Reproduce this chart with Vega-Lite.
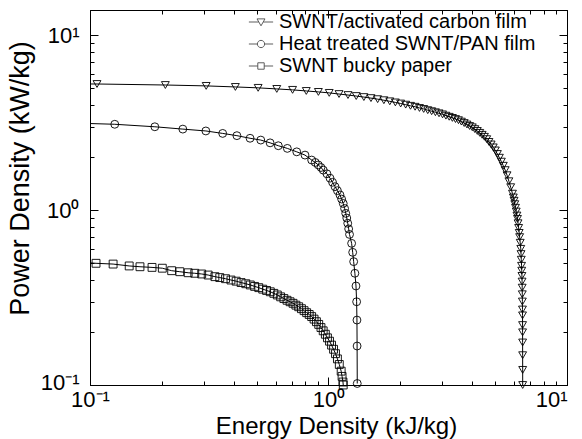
{
  "$schema": "https://vega.github.io/schema/vega-lite/v6.json",
  "width": 477,
  "height": 375,
  "autosize": {"type": "none"},
  "padding": {"left": 90, "top": 10, "right": 15, "bottom": 54},
  "background": "white",
  "config": {
    "view": {"stroke": "black", "strokeWidth": 1},
    "font": "Liberation Sans",
    "axis": {
      "domainColor": "black", "tickColor": "black", "labelColor": "black", "titleColor": "black",
      "grid": false, "labelFont": "Liberation Sans", "titleFont": "Liberation Sans",
      "titleFontWeight": "normal", "labelFontSize": 22, "titleFontSize": 26, "tickWidth": 1, "domainWidth": 1
    },
    "legend": {
      "orient": "none", "legendX": 161, "legendY": 2, "padding": 0,
      "labelFont": "Liberation Sans", "labelFontSize": 20, "labelColor": "black", "labelLimit": 400,
      "symbolSize": 300, "symbolStrokeWidth": 0.9, "symbolStrokeColor": "black", "symbolFillColor": "transparent",
      "labelOffset": 8, "rowPadding": 2
    }
  },
  "data": {"values": [
    {"series": "SWNT/activated carbon film", "E": 0.007, "P": 5.3},
    {"series": "SWNT/activated carbon film", "E": 0.107, "P": 5.25},
    {"series": "SWNT/activated carbon film", "E": 0.207, "P": 5.18},
    {"series": "SWNT/activated carbon film", "E": 0.307, "P": 5.12},
    {"series": "SWNT/activated carbon film", "E": 0.407, "P": 5.05},
    {"series": "SWNT/activated carbon film", "E": 0.507, "P": 4.99},
    {"series": "SWNT/activated carbon film", "E": 0.607, "P": 4.92},
    {"series": "SWNT/activated carbon film", "E": 0.707, "P": 4.86},
    {"series": "SWNT/activated carbon film", "E": 0.807, "P": 4.79},
    {"series": "SWNT/activated carbon film", "E": 0.907, "P": 4.73},
    {"series": "SWNT/activated carbon film", "E": 1.007, "P": 4.67},
    {"series": "SWNT/activated carbon film", "E": 1.107, "P": 4.60},
    {"series": "SWNT/activated carbon film", "E": 1.207, "P": 4.54},
    {"series": "SWNT/activated carbon film", "E": 1.307, "P": 4.48},
    {"series": "SWNT/activated carbon film", "E": 1.407, "P": 4.42},
    {"series": "SWNT/activated carbon film", "E": 1.507, "P": 4.36},
    {"series": "SWNT/activated carbon film", "E": 1.607, "P": 4.30},
    {"series": "SWNT/activated carbon film", "E": 1.707, "P": 4.24},
    {"series": "SWNT/activated carbon film", "E": 1.807, "P": 4.18},
    {"series": "SWNT/activated carbon film", "E": 1.907, "P": 4.12},
    {"series": "SWNT/activated carbon film", "E": 2.007, "P": 4.06},
    {"series": "SWNT/activated carbon film", "E": 2.107, "P": 4.00},
    {"series": "SWNT/activated carbon film", "E": 2.207, "P": 3.94},
    {"series": "SWNT/activated carbon film", "E": 2.307, "P": 3.89},
    {"series": "SWNT/activated carbon film", "E": 2.407, "P": 3.83},
    {"series": "SWNT/activated carbon film", "E": 2.507, "P": 3.78},
    {"series": "SWNT/activated carbon film", "E": 2.607, "P": 3.72},
    {"series": "SWNT/activated carbon film", "E": 2.707, "P": 3.67},
    {"series": "SWNT/activated carbon film", "E": 2.807, "P": 3.62},
    {"series": "SWNT/activated carbon film", "E": 2.907, "P": 3.57},
    {"series": "SWNT/activated carbon film", "E": 3.007, "P": 3.52},
    {"series": "SWNT/activated carbon film", "E": 3.107, "P": 3.46},
    {"series": "SWNT/activated carbon film", "E": 3.207, "P": 3.41},
    {"series": "SWNT/activated carbon film", "E": 3.307, "P": 3.36},
    {"series": "SWNT/activated carbon film", "E": 3.407, "P": 3.31},
    {"series": "SWNT/activated carbon film", "E": 3.507, "P": 3.26},
    {"series": "SWNT/activated carbon film", "E": 3.607, "P": 3.20},
    {"series": "SWNT/activated carbon film", "E": 3.707, "P": 3.14},
    {"series": "SWNT/activated carbon film", "E": 3.807, "P": 3.08},
    {"series": "SWNT/activated carbon film", "E": 3.907, "P": 3.02},
    {"series": "SWNT/activated carbon film", "E": 4.007, "P": 2.97},
    {"series": "SWNT/activated carbon film", "E": 4.107, "P": 2.90},
    {"series": "SWNT/activated carbon film", "E": 4.207, "P": 2.83},
    {"series": "SWNT/activated carbon film", "E": 4.307, "P": 2.76},
    {"series": "SWNT/activated carbon film", "E": 4.407, "P": 2.69},
    {"series": "SWNT/activated carbon film", "E": 4.507, "P": 2.62},
    {"series": "SWNT/activated carbon film", "E": 4.607, "P": 2.54},
    {"series": "SWNT/activated carbon film", "E": 4.707, "P": 2.45},
    {"series": "SWNT/activated carbon film", "E": 4.807, "P": 2.37},
    {"series": "SWNT/activated carbon film", "E": 4.907, "P": 2.28},
    {"series": "SWNT/activated carbon film", "E": 5.007, "P": 2.19},
    {"series": "SWNT/activated carbon film", "E": 5.107, "P": 2.09},
    {"series": "SWNT/activated carbon film", "E": 5.207, "P": 1.99},
    {"series": "SWNT/activated carbon film", "E": 5.307, "P": 1.89},
    {"series": "SWNT/activated carbon film", "E": 5.407, "P": 1.79},
    {"series": "SWNT/activated carbon film", "E": 5.507, "P": 1.69},
    {"series": "SWNT/activated carbon film", "E": 5.607, "P": 1.58},
    {"series": "SWNT/activated carbon film", "E": 5.707, "P": 1.46},
    {"series": "SWNT/activated carbon film", "E": 5.807, "P": 1.35},
    {"series": "SWNT/activated carbon film", "E": 5.907, "P": 1.24},
    {"series": "SWNT/activated carbon film", "E": 5.956, "P": 1.18},
    {"series": "SWNT/activated carbon film", "E": 6.0, "P": 1.13},
    {"series": "SWNT/activated carbon film", "E": 6.042, "P": 1.08},
    {"series": "SWNT/activated carbon film", "E": 6.083, "P": 1.03},
    {"series": "SWNT/activated carbon film", "E": 6.125, "P": 0.98},
    {"series": "SWNT/activated carbon film", "E": 6.167, "P": 0.93},
    {"series": "SWNT/activated carbon film", "E": 6.2, "P": 0.89},
    {"series": "SWNT/activated carbon film", "E": 6.234, "P": 0.84},
    {"series": "SWNT/activated carbon film", "E": 6.269, "P": 0.79},
    {"series": "SWNT/activated carbon film", "E": 6.303, "P": 0.74},
    {"series": "SWNT/activated carbon film", "E": 6.331, "P": 0.70},
    {"series": "SWNT/activated carbon film", "E": 6.366, "P": 0.65},
    {"series": "SWNT/activated carbon film", "E": 6.4, "P": 0.60},
    {"series": "SWNT/activated carbon film", "E": 6.416, "P": 0.56},
    {"series": "SWNT/activated carbon film", "E": 6.432, "P": 0.52},
    {"series": "SWNT/activated carbon film", "E": 6.448, "P": 0.48},
    {"series": "SWNT/activated carbon film", "E": 6.46, "P": 0.45},
    {"series": "SWNT/activated carbon film", "E": 6.472, "P": 0.42},
    {"series": "SWNT/activated carbon film", "E": 6.482, "P": 0.39},
    {"series": "SWNT/activated carbon film", "E": 6.488, "P": 0.36},
    {"series": "SWNT/activated carbon film", "E": 6.494, "P": 0.33},
    {"series": "SWNT/activated carbon film", "E": 6.5, "P": 0.30},
    {"series": "SWNT/activated carbon film", "E": 6.506, "P": 0.27},
    {"series": "SWNT/activated carbon film", "E": 6.51, "P": 0.25},
    {"series": "SWNT/activated carbon film", "E": 6.512, "P": 0.22},
    {"series": "SWNT/activated carbon film", "E": 6.513, "P": 0.20},
    {"series": "SWNT/activated carbon film", "E": 6.515, "P": 0.175},
    {"series": "SWNT/activated carbon film", "E": 6.517, "P": 0.148},
    {"series": "SWNT/activated carbon film", "E": 6.519, "P": 0.122},
    {"series": "SWNT/activated carbon film", "E": 6.52, "P": 0.1},
    {"series": "Heat treated SWNT/PAN film", "E": 0.068, "P": 3.17},
    {"series": "Heat treated SWNT/PAN film", "E": 0.127, "P": 3.09},
    {"series": "Heat treated SWNT/PAN film", "E": 0.187, "P": 2.99},
    {"series": "Heat treated SWNT/PAN film", "E": 0.245, "P": 2.90},
    {"series": "Heat treated SWNT/PAN film", "E": 0.306, "P": 2.83},
    {"series": "Heat treated SWNT/PAN film", "E": 0.36, "P": 2.74},
    {"series": "Heat treated SWNT/PAN film", "E": 0.413, "P": 2.66},
    {"series": "Heat treated SWNT/PAN film", "E": 0.469, "P": 2.57},
    {"series": "Heat treated SWNT/PAN film", "E": 0.52, "P": 2.51},
    {"series": "Heat treated SWNT/PAN film", "E": 0.569, "P": 2.42},
    {"series": "Heat treated SWNT/PAN film", "E": 0.616, "P": 2.33},
    {"series": "Heat treated SWNT/PAN film", "E": 0.672, "P": 2.25},
    {"series": "Heat treated SWNT/PAN film", "E": 0.736, "P": 2.15},
    {"series": "Heat treated SWNT/PAN film", "E": 0.797, "P": 2.06},
    {"series": "Heat treated SWNT/PAN film", "E": 0.85, "P": 1.93},
    {"series": "Heat treated SWNT/PAN film", "E": 0.88, "P": 1.87},
    {"series": "Heat treated SWNT/PAN film", "E": 0.906, "P": 1.81},
    {"series": "Heat treated SWNT/PAN film", "E": 0.93, "P": 1.75},
    {"series": "Heat treated SWNT/PAN film", "E": 0.951, "P": 1.69},
    {"series": "Heat treated SWNT/PAN film", "E": 0.985, "P": 1.61},
    {"series": "Heat treated SWNT/PAN film", "E": 1.015, "P": 1.52},
    {"series": "Heat treated SWNT/PAN film", "E": 1.04, "P": 1.44},
    {"series": "Heat treated SWNT/PAN film", "E": 1.065, "P": 1.36},
    {"series": "Heat treated SWNT/PAN film", "E": 1.09, "P": 1.29},
    {"series": "Heat treated SWNT/PAN film", "E": 1.117, "P": 1.22},
    {"series": "Heat treated SWNT/PAN film", "E": 1.135, "P": 1.155},
    {"series": "Heat treated SWNT/PAN film", "E": 1.153, "P": 1.09},
    {"series": "Heat treated SWNT/PAN film", "E": 1.168, "P": 1.02},
    {"series": "Heat treated SWNT/PAN film", "E": 1.181, "P": 0.957},
    {"series": "Heat treated SWNT/PAN film", "E": 1.193, "P": 0.9},
    {"series": "Heat treated SWNT/PAN film", "E": 1.204, "P": 0.84},
    {"series": "Heat treated SWNT/PAN film", "E": 1.215, "P": 0.78},
    {"series": "Heat treated SWNT/PAN film", "E": 1.225, "P": 0.725},
    {"series": "Heat treated SWNT/PAN film", "E": 1.25, "P": 0.645},
    {"series": "Heat treated SWNT/PAN film", "E": 1.263, "P": 0.573},
    {"series": "Heat treated SWNT/PAN film", "E": 1.275, "P": 0.507},
    {"series": "Heat treated SWNT/PAN film", "E": 1.29, "P": 0.435},
    {"series": "Heat treated SWNT/PAN film", "E": 1.304, "P": 0.368},
    {"series": "Heat treated SWNT/PAN film", "E": 1.312, "P": 0.299},
    {"series": "Heat treated SWNT/PAN film", "E": 1.316, "P": 0.235},
    {"series": "Heat treated SWNT/PAN film", "E": 1.318, "P": 0.167},
    {"series": "Heat treated SWNT/PAN film", "E": 1.32, "P": 0.102},
    {"series": "SWNT bucky paper", "E": 0.087, "P": 0.505},
    {"series": "SWNT bucky paper", "E": 0.106, "P": 0.496},
    {"series": "SWNT bucky paper", "E": 0.125, "P": 0.491},
    {"series": "SWNT bucky paper", "E": 0.146, "P": 0.479},
    {"series": "SWNT bucky paper", "E": 0.162, "P": 0.474},
    {"series": "SWNT bucky paper", "E": 0.182, "P": 0.47},
    {"series": "SWNT bucky paper", "E": 0.201, "P": 0.465},
    {"series": "SWNT bucky paper", "E": 0.22, "P": 0.45},
    {"series": "SWNT bucky paper", "E": 0.238, "P": 0.444},
    {"series": "SWNT bucky paper", "E": 0.258, "P": 0.438},
    {"series": "SWNT bucky paper", "E": 0.275, "P": 0.435},
    {"series": "SWNT bucky paper", "E": 0.294, "P": 0.431},
    {"series": "SWNT bucky paper", "E": 0.313, "P": 0.425},
    {"series": "SWNT bucky paper", "E": 0.334, "P": 0.416},
    {"series": "SWNT bucky paper", "E": 0.35, "P": 0.411},
    {"series": "SWNT bucky paper", "E": 0.37, "P": 0.405},
    {"series": "SWNT bucky paper", "E": 0.39, "P": 0.398},
    {"series": "SWNT bucky paper", "E": 0.41, "P": 0.392},
    {"series": "SWNT bucky paper", "E": 0.43, "P": 0.385},
    {"series": "SWNT bucky paper", "E": 0.45, "P": 0.379},
    {"series": "SWNT bucky paper", "E": 0.47, "P": 0.373},
    {"series": "SWNT bucky paper", "E": 0.49, "P": 0.366},
    {"series": "SWNT bucky paper", "E": 0.51, "P": 0.36},
    {"series": "SWNT bucky paper", "E": 0.53, "P": 0.353},
    {"series": "SWNT bucky paper", "E": 0.55, "P": 0.347},
    {"series": "SWNT bucky paper", "E": 0.57, "P": 0.341},
    {"series": "SWNT bucky paper", "E": 0.59, "P": 0.334},
    {"series": "SWNT bucky paper", "E": 0.61, "P": 0.327},
    {"series": "SWNT bucky paper", "E": 0.63, "P": 0.319},
    {"series": "SWNT bucky paper", "E": 0.65, "P": 0.312},
    {"series": "SWNT bucky paper", "E": 0.67, "P": 0.305},
    {"series": "SWNT bucky paper", "E": 0.69, "P": 0.299},
    {"series": "SWNT bucky paper", "E": 0.71, "P": 0.293},
    {"series": "SWNT bucky paper", "E": 0.73, "P": 0.286},
    {"series": "SWNT bucky paper", "E": 0.75, "P": 0.28},
    {"series": "SWNT bucky paper", "E": 0.77, "P": 0.273},
    {"series": "SWNT bucky paper", "E": 0.79, "P": 0.266},
    {"series": "SWNT bucky paper", "E": 0.81, "P": 0.259},
    {"series": "SWNT bucky paper", "E": 0.83, "P": 0.253},
    {"series": "SWNT bucky paper", "E": 0.85, "P": 0.246},
    {"series": "SWNT bucky paper", "E": 0.87, "P": 0.238},
    {"series": "SWNT bucky paper", "E": 0.89, "P": 0.23},
    {"series": "SWNT bucky paper", "E": 0.91, "P": 0.222},
    {"series": "SWNT bucky paper", "E": 0.93, "P": 0.213},
    {"series": "SWNT bucky paper", "E": 0.95, "P": 0.204},
    {"series": "SWNT bucky paper", "E": 0.97, "P": 0.195},
    {"series": "SWNT bucky paper", "E": 0.99, "P": 0.186},
    {"series": "SWNT bucky paper", "E": 1.01, "P": 0.178},
    {"series": "SWNT bucky paper", "E": 1.03, "P": 0.169},
    {"series": "SWNT bucky paper", "E": 1.05, "P": 0.16},
    {"series": "SWNT bucky paper", "E": 1.07, "P": 0.151},
    {"series": "SWNT bucky paper", "E": 1.09, "P": 0.141},
    {"series": "SWNT bucky paper", "E": 1.11, "P": 0.131},
    {"series": "SWNT bucky paper", "E": 1.13, "P": 0.12},
    {"series": "SWNT bucky paper", "E": 1.14, "P": 0.112},
    {"series": "SWNT bucky paper", "E": 1.15, "P": 0.104},
    {"series": "SWNT bucky paper", "E": 1.153, "P": 0.1}
  ]},
  "layer": [
    {
      "mark": {"type": "line", "color": "black", "strokeWidth": 1, "clip": true},
      "encoding": {
        "x": {
          "field": "E", "type": "quantitative",
          "scale": {"type": "log", "domain": [0.1, 10]},
          "axis": {
            "orient": "bottom", "title": "Energy Density (kJ/kg)", "titlePadding": 0, "titleX": 246,
            "titleFontSize": 24,
            "values": [0.1, 0.2, 0.3, 0.4, 0.5, 0.6, 0.7, 0.8, 0.9, 1, 2, 3, 4, 5, 6, 7, 8, 9, 10],
            "labelExpr": "datum.value == 0.1 ? '10⁻¹' : datum.value == 1 ? '10⁰' : datum.value == 10 ? '10¹' : ''",
            "tickSize": {"condition": {"test": "datum.value == 0.1 || datum.value == 1 || datum.value == 10", "value": -8}, "value": -4},
            "labelPadding": 12, "labelOverlap": false, "labelFlush": false,
            "labelAlign": {"condition": {"test": "datum.value == 10", "value": "right"}, "value": "center"}
          }
        },
        "y": {
          "field": "P", "type": "quantitative",
          "scale": {"type": "log", "domain": [0.1, 13.9]},
          "axis": {
            "orient": "left", "title": "Power Density (kW/kg)", "titlePadding": 6, "titleY": 168,
            "titleFontSize": 27,
            "values": [0.1, 0.2, 0.3, 0.4, 0.5, 0.6, 0.7, 0.8, 0.9, 1, 2, 3, 4, 5, 6, 7, 8, 9, 10],
            "labelExpr": "datum.value == 0.1 ? '10⁻¹' : datum.value == 1 ? '10⁰' : datum.value == 10 ? '10¹' : ''",
            "tickSize": {"condition": {"test": "datum.value == 0.1 || datum.value == 1 || datum.value == 10", "value": -8}, "value": -4},
            "labelOffset": {"condition": {"test": "datum.value == 0.1", "value": -3}, "value": 0},
            "labelPadding": 19, "labelOverlap": false, "labelFlush": false
          }
        },
        "detail": {"field": "series", "type": "nominal"}
      }
    },
    {
      "transform": [{"filter": "datum.E >= 0.1"}],
      "mark": {"type": "point", "filled": false, "color": "black", "strokeWidth": 0.9, "size": 62, "opacity": 1},
      "encoding": {
        "x": {
          "field": "E", "type": "quantitative",
          "scale": {"type": "log", "domain": [0.1, 10]},
          "axis": {
            "orient": "top", "title": null, "labels": false,
            "values": [0.1, 0.2, 0.3, 0.4, 0.5, 0.6, 0.7, 0.8, 0.9, 1, 2, 3, 4, 5, 6, 7, 8, 9, 10],
            "tickSize": {"condition": {"test": "datum.value == 0.1 || datum.value == 1 || datum.value == 10", "value": -8}, "value": -4}
          }
        },
        "y": {
          "field": "P", "type": "quantitative",
          "scale": {"type": "log", "domain": [0.1, 13.9]},
          "axis": {
            "orient": "right", "title": null, "labels": false,
            "values": [0.1, 0.2, 0.3, 0.4, 0.5, 0.6, 0.7, 0.8, 0.9, 1, 2, 3, 4, 5, 6, 7, 8, 9, 10],
            "tickSize": {"condition": {"test": "datum.value == 0.1 || datum.value == 1 || datum.value == 10", "value": -8}, "value": -4}
          }
        },
        "shape": {
          "field": "series", "type": "nominal",
          "scale": {"domain": ["SWNT/activated carbon film", "Heat treated SWNT/PAN film", "SWNT bucky paper"], "range": ["triangle-down", "circle", "square"]},
          "legend": null
        }
      }
    },
    {
      "transform": [{"filter": "datum.E < 0"}],
      "mark": {"type": "point", "filled": false, "color": "black", "strokeWidth": 0.9},
      "encoding": {
        "shape": {
          "field": "series", "type": "nominal",
          "scale": {
            "domain": ["SWNT/activated carbon film", "Heat treated SWNT/PAN film", "SWNT bucky paper"],
            "range": [
              "M-1.4,0H-0.26M0.26,0H1.4M-0.46,-0.36H0.46L0,0.44Z",
              "M-1.4,0H-0.42M0.42,0H1.4M0.42,0A0.42,0.42,0,1,1,-0.42,0A0.42,0.42,0,1,1,0.42,0Z",
              "M-1.4,0H-0.37M0.37,0H1.4M-0.37,-0.37H0.37V0.37H-0.37Z"
            ]
          },
          "legend": {"title": null}
        }
      }
    }
  ],
  "resolve": {"scale": {"shape": "independent"}, "axis": {"x": "independent", "y": "independent"}}
}
